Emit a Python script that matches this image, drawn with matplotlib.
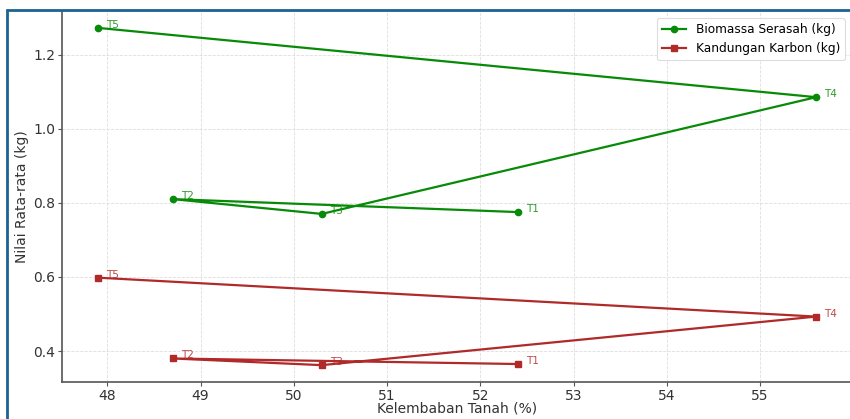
import matplotlib
matplotlib.use("Agg")
import matplotlib.pyplot as plt
from matplotlib.patches import Rectangle

# data
perlakuan = ["T1", "T2", "T3", "T4", "T5"]
kelembaban = [52.4, 48.7, 50.3, 55.6, 47.9]
biomassa = [0.775, 0.810, 0.770, 1.085, 1.272]
karbon = [0.365, 0.380, 0.362, 0.493, 0.598]

hijau = "#078a07"
merah = "#b02a2a"

fig = plt.figure(figsize=(8.5, 4.19), dpi=100)
ax = fig.add_axes([62/850, 37/419, 790/850, 371/419])

ax.plot(kelembaban, biomassa, "-o", color=hijau, lw=1.6, ms=4.5,
        label="Biomassa Serasah (kg)")
ax.plot(kelembaban, karbon, "-s", color=merah, lw=1.6, ms=4.5,
        label="Kandungan Karbon (kg)")

for i, t in enumerate(perlakuan):
    ax.annotate(t, (kelembaban[i], biomassa[i]), xytext=(6, 0),
                textcoords="offset points", fontsize=7.5, color=hijau,
                alpha=0.85, va="baseline")
    ax.annotate(t, (kelembaban[i], karbon[i]), xytext=(6, 0),
                textcoords="offset points", fontsize=7.5, color=merah,
                alpha=0.85, va="baseline")

ax.set_xticks([48, 49, 50, 51, 52, 53, 54, 55])
ax.set_yticks([0.4, 0.6, 0.8, 1.0, 1.2])
ax.grid(True, ls="--", color="#dedede", lw=0.6)
ax.set_axisbelow(True)
for s in ["top", "right"]:
    ax.spines[s].set_visible(False)
for s in ["left", "bottom"]:
    ax.spines[s].set_color("#555555")
    ax.spines[s].set_linewidth(1.2)
ax.tick_params(colors="#555555", labelcolor="#333333", labelsize=10,
               length=3, pad=2)
ax.set_xlabel("Kelembaban Tanah (%)", fontsize=10, color="#333333", labelpad=-1)
ax.set_ylabel("Nilai Rata-rata (kg)", fontsize=10, color="#333333", labelpad=3)

leg = ax.legend(loc="upper right", fontsize=8.7, framealpha=1,
                edgecolor="#dddddd", borderaxespad=0.6)
leg.get_frame().set_linewidth(0.8)

# blue frame around the screenshot
fig.patches.append(Rectangle((7/850, -0.1), 1.2, (419-10)/419 + 0.1,
                             transform=fig.transFigure, fill=False,
                             edgecolor="#1b6491", lw=2, zorder=10))

fig.savefig("out.png", dpi=100)
